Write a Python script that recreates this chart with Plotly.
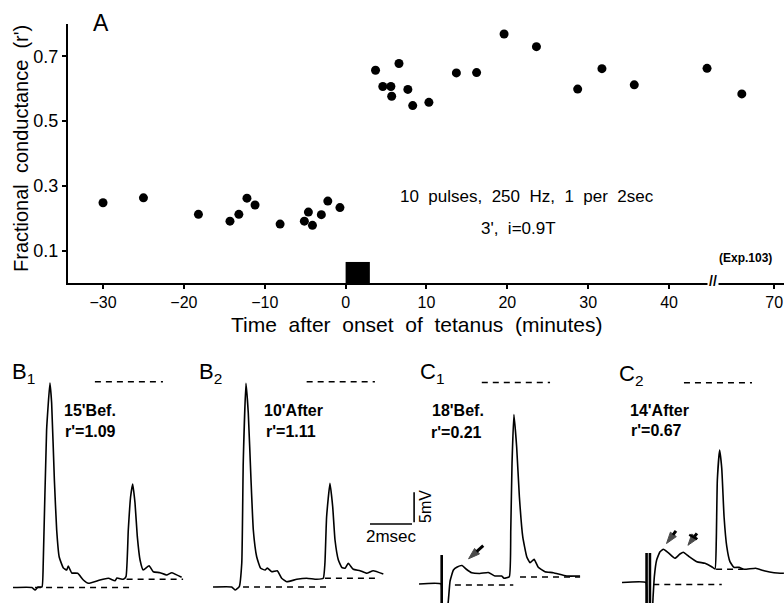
import plotly.graph_objects as go

# ---------------- Panel A data ----------------
TIME_MIN = [-30, -25, -18.2, -14.3, -13.2, -12.2, -11.2, -8.1, -5.1, -4.6, -4.1, -3.0, -2.2, -0.7,
            3.7, 4.6, 5.6, 5.7, 6.6, 7.7, 8.3, 10.3, 13.7, 16.2, 19.6, 23.6, 28.7, 31.7, 35.7, 44.7, 66]
R_PRIME = [0.248, 0.263, 0.212, 0.191, 0.212, 0.262, 0.241, 0.182, 0.191, 0.219, 0.178, 0.211, 0.253, 0.233,
           0.657, 0.607, 0.607, 0.577, 0.678, 0.598, 0.548, 0.558, 0.649, 0.650, 0.769, 0.730, 0.599, 0.662,
           0.612, 0.663, 0.584]
X_TICKS = [-30, -20, -10, 0, 10, 20, 30, 40, 70]
X_TICK_TEXT = ["\u221230", "\u221220", "\u221210", "0", "10", "20", "30", "40", "70"]
Y_TICKS = [0.1, 0.3, 0.5, 0.7]
Y_TICK_TEXT = ["0.1", "0.3", "0.5", "0.7"]
TETANUS_START = 0
TETANUS_DUR = 3
TETANUS_MARK_H = 0.065
AXIS_BREAK = 45.5      # minutes, where the axis is broken
BREAK_SKIP = 17        # minutes removed by the break

# ---------------- Traces (ms, mV) ----------------
B1_T = [0, 0.90, 1.05, 1.19, 1.38, 1.44, 1.60, 1.76, 1.84, 1.97, 2.08, 2.20, 2.40, 2.56, 2.63, 2.80, 3.08,
        3.35, 3.59, 4.14, 4.54, 4.86, 4.95, 5.25, 5.38, 5.49, 5.60, 5.70, 5.81, 5.92, 6.05, 6.20, 6.48,
        6.68, 7.0, 7.32, 7.56, 8.03]
B1_V = [0, 0, -0.42, 0.08, 0.08, 4.08, 26.25, 34.08, 30.75, 17.92, 9.58, 5.08, 3.25, 2.92, 3.58, 2.42, 2.37,
        1.25, 0.70, 1.25, 1.53, 1.13, 1.58, 1.37, 1.80, 9.58, 15.13, 17.25, 14.08, 8.47, 4.58, 2.92, 3.63,
        2.63, 2.47, 2.08, 2.47, 1.70]

B2_T = [0, 0.89, 1.05, 1.25, 1.37, 1.44, 1.57, 1.68, 1.81, 1.92, 2.08, 2.27, 2.48, 2.59, 2.80, 3.06, 3.27,
        3.51, 3.99, 4.46, 4.94, 5.25, 5.33, 5.41, 5.57, 5.70, 5.81, 5.97, 6.13, 6.29, 6.44, 6.68, 7.0,
        7.32, 7.63, 8.11]
B2_V = [0, 0, -0.5, 0.05, 4.0, 20.67, 33.95, 29.0, 17.83, 9.5, 5.05, 3.12, 2.83, 3.17, 2.55, 2.72, 1.45,
        0.88, 1.28, 1.45, 1.28, 1.45, 4.0, 11.72, 17.28, 13.38, 7.83, 4.5, 3.28, 3.12, 3.95, 2.95, 2.72,
        2.28, 2.72, 2.17]

C1_T = [0, 1.05, 1.10, 1.33, 1.40, 1.48, 1.64, 1.82, 2.05, 2.24, 2.51, 2.90, 3.30, 3.62, 3.94, 4.05, 4.30,
        4.37, 4.43, 4.52, 4.65, 4.78, 4.94, 5.13, 5.29, 5.48, 5.68, 6.0, 6.40, 7.03, 7.67]
C1_V = [0, 0, -4.5, -4.5, -2.67, 0.5, 2.33, 2.83, 3.08, 2.5, 1.88, 1.75, 1.92, 1.33, 1.33, 0.95, 1.22,
        9.0, 20.12, 28.25, 22.88, 14.55, 7.88, 4.55, 3.55, 4.12, 2.78, 2.05, 1.88, 1.33, 1.33]
C1_ARTIFACT_T = [1.08]
C1_ARTIFACT_V = [4.83, -5.0]

C2_T = [0, 1.14, 1.20, 1.43, 1.48, 1.54, 1.65, 1.81, 1.97, 2.20, 2.52, 2.76, 2.92, 3.16, 3.56, 3.95, 4.27,
        4.43, 4.49, 4.54, 4.65, 4.75, 4.86, 4.99, 5.14, 5.33, 5.57, 5.81, 6.37, 6.76, 7.24, 7.71]
C2_V = [0, 0, -4.6, -4.6, -2.37, 0.97, 3.75, 5.13, 5.53, 4.97, 4.03, 4.75, 5.03, 4.42, 3.47, 3.2, 2.63,
        2.25, 7.08, 17.08, 22.08, 19.03, 10.97, 5.97, 3.47, 2.53, 2.53, 2.2, 2.37, 1.97, 1.63, 1.53]
C2_ARTIFACT_T = [1.17, 1.33]
C2_ARTIFACT_V = [4.92, -5.0]

# dashed reference lines: (t_start, t_end, level mV)
B1_REFS = [(1.05, 5.57, 0.0), (5.41, 8.10, 1.37), (3.90, 7.14, 34.3)]
B2_REFS = [(1.43, 5.57, 0.0), (5.33, 7.80, 1.45), (4.46, 7.71, 34.2)]
C1_REFS = [(1.71, 4.49, -0.17), (4.81, 7.67, 1.17), (2.99, 6.24, 33.6)]
C2_REFS = [(1.49, 4.75, -0.33), (4.48, 5.76, 2.2), (2.95, 6.19, 33.3)]

# arrows (tail t, tail V, head t, head V)
C1_ARROWS = [(3.06, 6.4, 2.36, 4.2)]
C2_ARROWS = [(2.57, 8.6, 2.12, 6.5), (3.57, 8.2, 3.14, 6.2)]
C2_CROSS_T = [3.20, 3.58]
C2_CROSS_V = [7.95, 7.2]

SCALE_MS = 2
SCALE_MV = 5

PANEL_LABELS = ["B<sub>1</sub>", "B<sub>2</sub>", "C<sub>1</sub>", "C<sub>2</sub>"]
PANEL_TIMES = ["15'Bef.", "10'After", "18'Bef.", "14'After"]
PANEL_R = ["r'=1.09", "r'=1.11", "r'=0.21", "r'=0.67"]

# ---------------- layout helpers ----------------
W, H = 784, 603
FONT = "Liberation Sans, Arial, Helvetica, sans-serif"
SP = "\u00a0\u00a0"


def px(x):
    return x / W


def py(y):
    return 1 - y / H


def brk(t):
    return t if t < AXIS_BREAK else t - BREAK_SKIP


def note(text, x, y, size, **kw):
    d = dict(text=text, x=px(x), y=py(y), xref="paper", yref="paper", showarrow=False,
             xanchor="center", yanchor="middle", font=dict(size=size, family=FONT, color="black"))
    d.update(kw)
    return d


fig = go.Figure()

# Panel A
fig.add_trace(go.Scatter(
    x=[brk(t) for t in TIME_MIN], y=R_PRIME, mode="markers",
    marker=dict(size=9, color="black"), xaxis="x", yaxis="y", showlegend=False, hoverinfo="skip"))

fig.add_shape(type="rect", xref="x", yref="y", x0=TETANUS_START, x1=TETANUS_START + TETANUS_DUR,
              y0=0, y1=TETANUS_MARK_H, fillcolor="black", line=dict(width=0))

PX_PER_MIN = 8.086
ZERO_PX = 345.6
A_LEFT, A_RIGHT = 68, 784
A_TOP, A_BOT = 24, 283

layout = dict(
    width=W, height=H, margin=dict(l=0, r=0, t=0, b=0),
    paper_bgcolor="white", plot_bgcolor="rgba(0,0,0,0)",
    font=dict(family=FONT, color="black"),
    showlegend=False,
    xaxis=dict(domain=[px(A_LEFT), px(A_RIGHT)],
               range=[(A_LEFT - ZERO_PX) / PX_PER_MIN, (A_RIGHT - ZERO_PX) / PX_PER_MIN],
               tickvals=[brk(t) for t in X_TICKS], ticktext=X_TICK_TEXT,
               showline=True, linecolor="black", linewidth=2, showgrid=False, zeroline=False,
               ticks="outside", ticklen=4, tickwidth=2, tickcolor="black",
               tickfont=dict(size=16, family=FONT), anchor="y", automargin=False),
    yaxis=dict(domain=[py(A_BOT), py(A_TOP)], range=[0, 0.8],
               tickvals=Y_TICKS, ticktext=Y_TICK_TEXT,
               showline=True, linecolor="black", linewidth=2, showgrid=False, zeroline=False,
               ticks="outside", ticklen=4, tickwidth=2, tickcolor="black",
               tickfont=dict(size=18, family=FONT), anchor="x", automargin=False),
)

annotations = [
    note("A", 101, 23, 23),
    note(SP.join(["Fractional", "conductance", "(r')"]), 21, 149, 20, textangle=-90),
    note(SP.join(["Time", "after", "onset", "of", "tetanus", "(minutes)"]), 417, 324, 21),
    note(SP.join(["10", "pulses,", "250", "Hz,", "1", "per", "2sec"]), 527, 197, 17),
    note(SP.join(["3',", "i=0.9T"]), 518, 228, 17),
    note("<b>(Exp.103)</b>", 745, 258, 12),
    note("<b>//</b>", 713, 281, 14, bgcolor="white"),
]

# ---------------- Trace panels ----------------
PXMS = 21.0
PXMV = 6.0
TR_TOP, TR_BOT = 365, 603
panels = [
    (13, 587.5, B1_T, B1_V, B1_REFS, [], [], [], []),
    (213, 587.0, B2_T, B2_V, B2_REFS, [], [], [], []),
    (419, 584.0, C1_T, C1_V, C1_REFS, C1_ARTIFACT_T, C1_ARTIFACT_V, C1_ARROWS, []),
    (622, 582.5, C2_T, C2_V, C2_REFS, C2_ARTIFACT_T, C2_ARTIFACT_V, C2_ARROWS, [(C2_CROSS_T, C2_CROSS_V)]),
]
label_pos = [(23, 373), (211, 373), (432, 373), (631, 375)]
time_pos = [(90, 410), (293, 410), (458, 410), (659, 410)]
r_pos = [(90, 431), (291, 431), (456, 432), (656, 430)]

hidden = dict(visible=False, showgrid=False, zeroline=False, automargin=False)

for i, (x0, base, T, V, refs, art_t, art_v, arrows, crosses) in enumerate(panels):
    n = i + 2
    xa, ya = f"x{n}", f"y{n}"
    x1 = min(x0 + 175, W)
    layout[f"xaxis{n}"] = dict(domain=[px(x0), px(x1)], range=[0, (x1 - x0) / PXMS], anchor=ya, **hidden)
    layout[f"yaxis{n}"] = dict(domain=[py(TR_BOT), py(TR_TOP)],
                               range=[(base - TR_BOT) / PXMV, (base - TR_TOP) / PXMV], anchor=xa, **hidden)
    fig.add_trace(go.Scatter(x=T, y=V, mode="lines", line=dict(color="black", width=1.6, shape="spline",
                                                               smoothing=0.4),
                             xaxis=xa, yaxis=ya, hoverinfo="skip"))
    for (ts, te, lv) in refs:
        fig.add_trace(go.Scatter(x=[ts, te], y=[lv, lv], mode="lines",
                                 line=dict(color="black", width=1.5, dash="6px,5px"),
                                 xaxis=xa, yaxis=ya, hoverinfo="skip"))
    for at in art_t:
        fig.add_trace(go.Scatter(x=[at, at], y=art_v, mode="lines", line=dict(color="black", width=2.6),
                                 xaxis=xa, yaxis=ya, hoverinfo="skip"))
    for (tt, tv, ht, hv) in arrows:
        fig.add_trace(go.Scatter(x=[tt, ht], y=[tv, hv], mode="lines+markers",
                                 line=dict(color="black", width=3),
                                 marker=dict(symbol="arrow", size=[0, 12], angleref="previous", color="black",
                                             line=dict(width=1, color="black")),
                                 xaxis=xa, yaxis=ya, hoverinfo="skip"))
    for (ct, cv) in crosses:
        fig.add_trace(go.Scatter(x=ct, y=cv, mode="lines", line=dict(color="black", width=2.2),
                                 xaxis=xa, yaxis=ya, hoverinfo="skip"))
    lx, ly = label_pos[i]
    annotations.append(note(PANEL_LABELS[i], lx, ly, 22))
    tx, ty = time_pos[i]
    annotations.append(note("<b>" + PANEL_TIMES[i] + "</b>", tx, ty, 16))
    rx, ry = r_pos[i]
    annotations.append(note("<b>" + PANEL_R[i] + "</b>", rx, ry, 16))

# scale bar axis
SB_X0, SB_BASE = 370, 524
layout["xaxis6"] = dict(domain=[px(SB_X0 - 10), px(SB_X0 + 60)], range=[-10 / PXMS, 60 / PXMS],
                        anchor="y6", **hidden)
layout["yaxis6"] = dict(domain=[py(TR_BOT), py(TR_TOP)],
                        range=[(SB_BASE - TR_BOT) / PXMV, (SB_BASE - TR_TOP) / PXMV], anchor="x6", **hidden)
fig.add_trace(go.Scatter(x=[0, SCALE_MS], y=[0, 0], mode="lines", line=dict(color="black", width=1.6),
                         xaxis="x6", yaxis="y6", hoverinfo="skip"))
fig.add_trace(go.Scatter(x=[SCALE_MS * 1.05, SCALE_MS * 1.05], y=[0.3, 0.3 + SCALE_MV], mode="lines",
                         line=dict(color="black", width=1.6), xaxis="x6", yaxis="y6", hoverinfo="skip"))
annotations.append(note("2msec", 391, 536, 17))
annotations.append(note("5mV", 426, 507, 16, textangle=-90))

layout["annotations"] = annotations
fig.update_layout(**layout)
fig.write_html("out.html", config={"displayModeBar": False},
               post_script="document.body.style.margin='0px';document.body.style.overflow='hidden';")
